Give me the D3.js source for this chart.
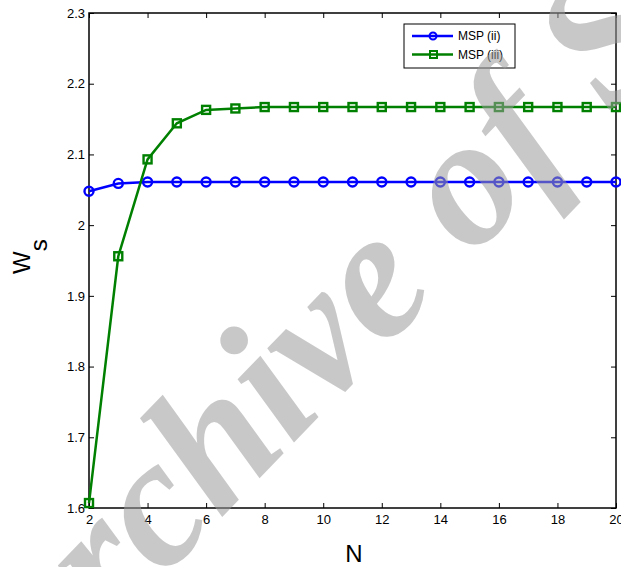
<!DOCTYPE html>
<html>
<head>
<meta charset="utf-8">
<script src="https://cdn.jsdelivr.net/npm/d3@7"></script>
<style>
    body { margin: 0; background: #fff; }
    text { font-family: "Liberation Sans", Arial, sans-serif; }
</style>
</head>
<body>
<div id="vis"></div>
<script>

// data
const nValues = [2, 3, 4, 5, 6, 7, 8, 9, 10, 11, 12, 13, 14, 15, 16, 17, 18, 19, 20];
const mspII = [2.048, 2.059, 2.061, 2.061, 2.061, 2.061, 2.061, 2.061, 2.061, 2.061,
               2.061, 2.061, 2.061, 2.061, 2.061, 2.061, 2.061, 2.061, 2.061];
const mspIII = [1.607, 1.956, 2.093, 2.144, 2.163, 2.165, 2.167, 2.167, 2.167, 2.167,
                2.167, 2.167, 2.167, 2.167, 2.167, 2.167, 2.167, 2.167, 2.167];
const xTicks = [2, 4, 6, 8, 10, 12, 14, 16, 18, 20];
const yTicks = [1.6, 1.7, 1.8, 1.9, 2.0, 2.1, 2.2, 2.3];
const seriesNames = ['MSP (ii)', 'MSP (iii)'];

let margin = {top: 13, right: 5, bottom: 59, left: 89};
let width = 621 - margin.left - margin.right,
    height = 567 - margin.top - margin.bottom;

let svg = d3.select('#vis')
    .append('svg')
    .attr('width', 621)
    .attr('height', 567);

let xScale = d3.scaleLinear()
    .domain([2, 20])
    .range([margin.left, margin.left + width]);

let yScale = d3.scaleLinear()
    .domain([1.6, 2.3])
    .range([margin.top + height, margin.top]);

let fmt = d => String(+d.toFixed(1));

// axes (MATLAB style: ticks inside, box all round)
let tickLen = 5;
svg.append('g')
    .attr('transform', 'translate(0,' + (margin.top + height) + ')')
    .call(d3.axisBottom(xScale).tickValues(xTicks).tickSizeInner(-tickLen).tickSizeOuter(0).tickPadding(7).tickFormat(fmt))
    .call(g => g.select('.domain').remove())
    .call(g => g.selectAll('text').attr('font-size', 13));

svg.append('g')
    .attr('transform', 'translate(0,' + margin.top + ')')
    .call(d3.axisTop(xScale).tickValues(xTicks).tickSizeInner(-tickLen).tickSizeOuter(0).tickFormat(''))
    .call(g => g.select('.domain').remove());

svg.append('g')
    .attr('transform', 'translate(' + margin.left + ',0)')
    .call(d3.axisLeft(yScale).tickValues(yTicks).tickSizeInner(-tickLen).tickSizeOuter(0).tickPadding(4).tickFormat(fmt))
    .call(g => g.select('.domain').remove())
    .call(g => g.selectAll('text').attr('font-size', 13));

svg.append('g')
    .attr('transform', 'translate(' + (margin.left + width) + ',0)')
    .call(d3.axisRight(yScale).tickValues(yTicks).tickSizeInner(-tickLen).tickSizeOuter(0).tickFormat(''))
    .call(g => g.select('.domain').remove());

svg.append('rect')
    .attr('x', margin.left)
    .attr('y', margin.top)
    .attr('width', width)
    .attr('height', height)
    .attr('fill', 'none')
    .attr('stroke', '#000')
    .attr('stroke-width', 1.5);

// lines
let line = d3.line()
    .x((d, i) => xScale(nValues[i]))
    .y(d => yScale(d));

svg.append('path')
    .datum(mspII)
    .attr('d', line)
    .attr('fill', 'none')
    .attr('stroke', '#0000ff')
    .attr('stroke-width', 2.5);

svg.selectAll('circle.ii')
    .data(mspII)
    .enter()
    .append('circle')
    .attr('class', 'ii')
    .attr('cx', (d, i) => xScale(nValues[i]))
    .attr('cy', d => yScale(d))
    .attr('r', 4.5)
    .attr('fill', 'none')
    .attr('stroke', '#0000ff')
    .attr('stroke-width', 2.4);

svg.append('path')
    .datum(mspIII)
    .attr('d', line)
    .attr('fill', 'none')
    .attr('stroke', '#008000')
    .attr('stroke-width', 2.5);

svg.selectAll('rect.iii')
    .data(mspIII)
    .enter()
    .append('rect')
    .attr('class', 'iii')
    .attr('x', (d, i) => xScale(nValues[i]) - 4)
    .attr('y', d => yScale(d) - 4)
    .attr('width', 8)
    .attr('height', 8)
    .attr('fill', 'none')
    .attr('stroke', '#008000')
    .attr('stroke-width', 2.4);

// legend
let legend = svg.append('g').attr('transform', 'translate(404,24)');
legend.append('rect')
    .attr('width', 111)
    .attr('height', 44)
    .attr('fill', '#fff')
    .attr('stroke', '#000')
    .attr('stroke-width', 1);

let colors = ['#0000ff', '#008000'];
seriesNames.forEach(function (name, i) {
    let yy = 12 + i * 18.5;
    legend.append('line')
        .attr('x1', 8).attr('x2', 49)
        .attr('y1', yy).attr('y2', yy)
        .attr('stroke', colors[i])
        .attr('stroke-width', 2.4);
    if (i === 0) {
        legend.append('circle')
            .attr('cx', 29).attr('cy', yy).attr('r', 3.5)
            .attr('fill', 'none').attr('stroke', colors[i]).attr('stroke-width', 2);
    } else {
        legend.append('rect')
            .attr('x', 26).attr('y', yy - 3.5).attr('width', 7).attr('height', 7)
            .attr('fill', 'none').attr('stroke', colors[i]).attr('stroke-width', 2);
    }
    legend.append('text')
        .attr('x', 54)
        .attr('y', yy + 4)
        .attr('font-size', 12)
        .text(name);
});

// axis titles
svg.append('text')
    .attr('x', 354)
    .attr('y', 562)
    .attr('text-anchor', 'middle')
    .attr('font-size', 24)
    .text('N');

let yTitle = svg.append('text')
    .attr('transform', 'translate(30,274) rotate(-90)')
    .attr('font-size', 24);
yTitle.append('tspan').text('W');
yTitle.append('tspan').attr('dy', 17).text('s');

// watermark
svg.append('text')
    .attr('transform', 'translate(28,718) rotate(-46)')
    .style('font-family', '"Liberation Serif", "Times New Roman", serif')
    .style('font-style', 'italic')
    .style('font-weight', 'bold')
    .attr('font-size', 184)
    .attr('fill', 'rgb(155,155,155)')
    .attr('fill-opacity', 0.55)
    .text('Archive of SID');

</script>
</body>
</html>
